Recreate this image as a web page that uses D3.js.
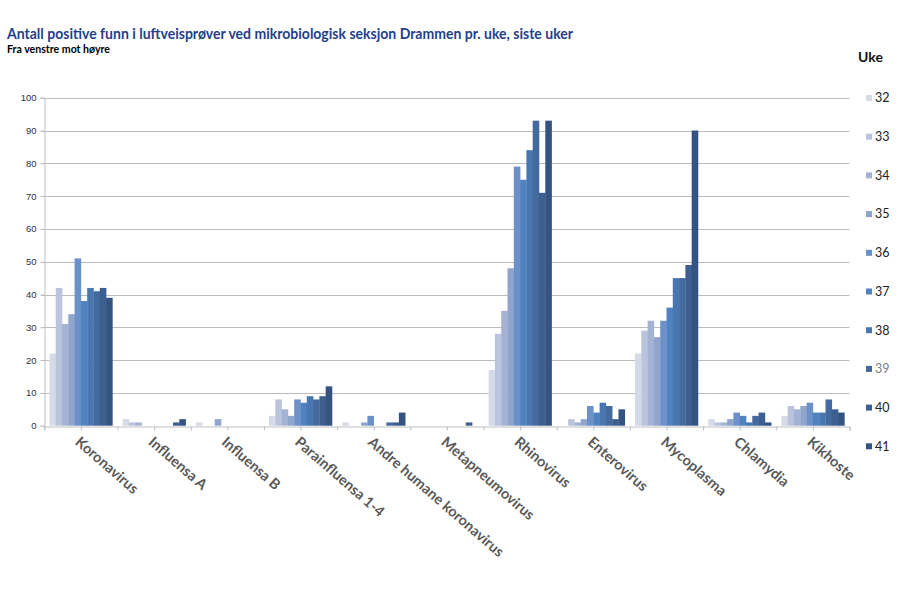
<!DOCTYPE html>
<html>
<head>
<meta charset="utf-8">
<script src="https://cdn.jsdelivr.net/npm/d3@7"></script>
<style>
  html, body { margin: 0; padding: 0; background: #ffffff; }
  svg { display: block; }
</style>
</head>
<body>
<svg id="chart" width="900" height="600"></svg>
<script>
// ---- Data ----
const categories = ["Koronavirus", "Influensa A", "Influensa B", "Parainfluensa 1-4",
  "Andre humane koronavirus", "Metapneumovirus", "Rhinovirus", "Enterovirus",
  "Mycoplasma", "Chlamydia", "Kikhoste"];
const weeks = ["32", "33", "34", "35", "36", "37", "38", "39", "40", "41"];
// values per category, one per week (32..41)
const koronavirus = [22, 42, 31, 34, 51, 38, 42, 41, 42, 39];
const influensaA = [2, 1, 1, 0, 0, 0, 0, 0, 1, 2];
const influensaB = [1, 0, 0, 2, 0, 0, 0, 0, 0, 0];
const parainfluensa = [3, 8, 5, 3, 8, 7, 9, 8, 9, 12];
const andreKorona = [1, 0, 0, 1, 3, 0, 0, 1, 1, 4];
const metapneumo = [0, 0, 0, 0, 0, 0, 0, 0, 1, 0];
const rhinovirus = [17, 28, 35, 48, 79, 75, 84, 93, 71, 93];
const enterovirus = [0, 2, 1, 2, 6, 4, 7, 6, 2, 5];
const mycoplasma = [22, 29, 32, 27, 32, 36, 45, 45, 49, 90];
const chlamydia = [2, 1, 1, 2, 4, 3, 1, 3, 4, 1];
const kikhoste = [3, 6, 5, 6, 7, 4, 4, 8, 5, 4];
const yTicks = [0, 10, 20, 30, 40, 50, 60, 70, 80, 90, 100];
const weekColors = ["#d5dae8", "#bac4dd", "#a4b2d4", "#8fa5cd", "#6c90c8",
  "#5082c0", "#4877b0", "#43699f", "#3d5f90", "#355381"];

const seriesByCategory = [koronavirus, influensaA, influensaB, parainfluensa, andreKorona,
  metapneumo, rhinovirus, enterovirus, mycoplasma, chlamydia, kikhoste];

// ---- Layout ----
const svg = d3.select("#chart");
const plotLeft = 44.3, plotRight = 849.5, plotTop = 97.7, plotBottom = 425.7;

const x0 = d3.scaleBand().domain(categories).range([plotLeft, plotRight])
  .paddingInner(0.14).paddingOuter(0.07);
const x1 = d3.scaleBand().domain(weeks).range([0, x0.bandwidth()]).padding(0);
const xIdx = d3.scaleLinear().domain([0, categories.length]).range([plotLeft, plotRight]);
const y = d3.scaleLinear().domain([0, 100]).range([plotBottom, plotTop]);
const color = d3.scaleOrdinal().domain(weeks).range(weekColors);

// Title
svg.append("text")
  .attr("x", 7).attr("y", 39)
  .attr("font-family", "Lato, 'Open Sans', sans-serif")
  .attr("font-weight", "bold").attr("font-size", 16)
  .attr("fill", "#1f3f8c")
  .attr("textLength", 566).attr("lengthAdjust", "spacingAndGlyphs")
  .text("Antall positive funn i luftveisprøver ved mikrobiologisk seksjon Drammen pr. uke, siste uker");
svg.append("text")
  .attr("x", 7).attr("y", 53)
  .attr("font-family", "Lato, 'Open Sans', sans-serif")
  .attr("font-weight", "bold").attr("font-size", 10.5)
  .attr("fill", "#000")
  .attr("textLength", 103).attr("lengthAdjust", "spacingAndGlyphs")
  .text("Fra venstre mot høyre");

// Gridlines
svg.append("g").selectAll("line")
  .data(yTicks.filter(d => d > 0))
  .join("line")
  .attr("x1", plotLeft - 3).attr("x2", plotRight)
  .attr("y1", d => Math.round(y(d)) + 0.5).attr("y2", d => Math.round(y(d)) + 0.5)
  .attr("stroke", "#bcbcbc").attr("stroke-width", 1);

// Y axis
const yAxis = svg.append("g")
  .attr("transform", `translate(${Math.round(plotLeft) + 0.5},0)`)
  .call(d3.axisLeft(y).tickValues(yTicks).tickSize(4).tickPadding(4));
yAxis.select(".domain").attr("stroke", "#bfbfbf");
yAxis.selectAll(".tick line").attr("stroke", "#bfbfbf");
yAxis.selectAll(".tick text")
  .attr("font-family", "'Liberation Sans', Arial, sans-serif")
  .attr("font-size", 9.5).attr("fill", "#333");

// Bars
const groups = svg.append("g").selectAll("g")
  .data(categories)
  .join("g")
  .attr("transform", d => `translate(${x0(d)},0)`);
groups.selectAll("rect")
  .data((c, i) => weeks.map((w, j) => ({ week: w, value: seriesByCategory[i][j] })))
  .join("rect")
  .attr("x", d => x1(d.week))
  .attr("width", x1.bandwidth() + 0.3)
  .attr("y", d => y(d.value))
  .attr("height", d => plotBottom - y(d.value))
  .attr("fill", d => color(d.week));

// X axis (line + ticks at each half category)
const xAxis = svg.append("g")
  .attr("transform", `translate(0,${Math.round(plotBottom) + 0.5})`)
  .call(d3.axisBottom(xIdx).tickValues(d3.range(0, categories.length + 0.01, 0.5))
    .tickSize(4).tickFormat(""));
xAxis.select(".domain").attr("stroke", "#bfbfbf");
xAxis.selectAll(".tick line").attr("stroke", "#bfbfbf");

// X labels, rotated
svg.append("g").selectAll("text")
  .data(categories)
  .join("text")
  .attr("transform", d => `translate(${x0(d) + x0.bandwidth() / 2 + 1},${plotBottom + 9}) rotate(41)`)
  .attr("dy", "0.8em")
  .attr("text-anchor", "start")
  .attr("font-family", "Lato, 'Open Sans', sans-serif")
  .attr("font-weight", "bold").attr("font-size", 14.5)
  .attr("fill", "#595959")
  .text(d => d);

// Legend
svg.append("text")
  .attr("x", 858).attr("y", 62)
  .attr("font-family", "Lato, 'Open Sans', sans-serif")
  .attr("font-weight", "bold").attr("font-size", 14)
  .attr("fill", "#111")
  .text("Uke");
const legend = svg.append("g").selectAll("g")
  .data(weeks)
  .join("g")
  .attr("transform", (d, i) => `translate(866,${98 + i * 38.7})`);
legend.append("rect")
  .attr("x", 0).attr("y", -3).attr("width", 6).attr("height", 6)
  .attr("fill", d => color(d));
legend.append("text")
  .attr("x", 9).attr("y", 0).attr("dy", "0.35em")
  .attr("font-family", "Lato, 'Open Sans', sans-serif")
  .attr("font-size", 12.5)
  .attr("fill", d => d === "39" ? "#7f7f7f" : "#222")
  .text(d => d);
</script>
</body>
</html>
